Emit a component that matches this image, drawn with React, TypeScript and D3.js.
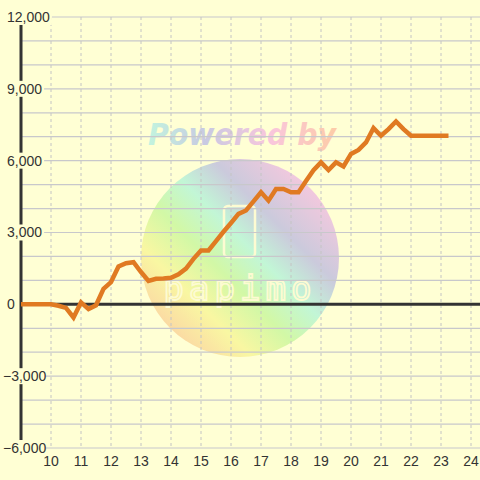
import React from 'react'
import * as d3 from 'd3'

// hour of day (quarter-hour steps) and cumulative value
const hours = [9, 9.25, 9.5, 9.75, 10, 10.25, 10.5, 10.75, 11, 11.25, 11.5, 11.75, 12, 12.25, 12.5, 12.75, 13, 13.25, 13.5, 13.75, 14, 14.25, 14.5, 14.75, 15, 15.25, 15.5, 15.75, 16, 16.25, 16.5, 16.75, 17, 17.25, 17.5, 17.75, 18, 18.25, 18.5, 18.75, 19, 19.25, 19.5, 19.75, 20, 20.25, 20.5, 20.75, 21, 21.25, 21.5, 21.75, 22, 22.25, 22.5, 22.75, 23, 23.25]
const values = [0, 0, 0, 0, 0, -60, -150, -550, 80, -200, -40, 650, 930, 1580, 1720, 1760, 1350, 980, 1070, 1080, 1110, 1250, 1490, 1900, 2250, 2250, 2640, 3030, 3400, 3780, 3920, 4300, 4680, 4330, 4820, 4820, 4680, 4680, 5150, 5600, 5930, 5610, 5930, 5760, 6280, 6450, 6760, 7360, 7040, 7320, 7640, 7320, 7040, 7040, 7040, 7040, 7040, 7040]

const xTicks = [10, 11, 12, 13, 14, 15, 16, 17, 18, 19, 20, 21, 22, 23, 24]
const yTicks = [-6000, -3000, 0, 3000, 6000, 9000, 12000]
const yGrid = d3.range(-6000, 12001, 1000)

const W = 480
const H = 480
const BG = '#ffffd4'
const FONT = 'Liberation Sans, Arial, sans-serif'

const App = () => {
    const x = d3.scaleLinear().domain([9, 24.3]).range([21, 480])
    const y = d3.scaleLinear().domain([-6000, 12000]).range([448, 17])
    const fmt = d3.format(',')

    const line = d3.line<number>()
        .x((d, i) => x(hours[i]))
        .y(d => y(d))

    return (
        <svg width={W} height={H} style={{ position: 'absolute', left: 0, top: 0 }} fontFamily={FONT}>
            <defs>
                <linearGradient id="wm" x1="0" y1="1" x2="1" y2="0">
                    <stop offset="0.05" stopColor="#fcc6a4" />
                    <stop offset="0.28" stopColor="#f9f7a2" />
                    <stop offset="0.42" stopColor="#d2f8a6" />
                    <stop offset="0.55" stopColor="#c2f6d6" />
                    <stop offset="0.68" stopColor="#cbcadc" />
                    <stop offset="0.9" stopColor="#fcc8de" />
                </linearGradient>
                <linearGradient id="pw" x1="0" y1="0" x2="1" y2="0">
                    <stop offset="0" stopColor="#c2f4de" />
                    <stop offset="0.3" stopColor="#c8cae2" />
                    <stop offset="0.65" stopColor="#f9c6dc" />
                    <stop offset="1" stopColor="#fdcca6" />
                </linearGradient>
            </defs>
            <rect width={W} height={H} fill={BG} />

            {/* watermark */}
            <circle cx={240} cy={258} r={99} fill="url(#wm)" />
            <text x={148} y={145} fontSize={30} fontWeight="bold" fontStyle="italic"
                fontFamily="DejaVu Sans, sans-serif" fill="url(#pw)" textLength={188}
                lengthAdjust="spacingAndGlyphs">Powered by</text>
            <rect x={224} y={206} width={31} height={51} rx={4} fill="none" stroke="#fdfbd2" strokeWidth={2.5} />
            <text x={240} y={300} fontSize={34} textAnchor="middle" fill="none" stroke="#fdfbd2" strokeWidth={1.8}
                fontFamily="DejaVu Sans Mono, monospace" letterSpacing={5}>papimo</text>

            {/* grid */}
            {yGrid.map(v => (
                <line key={'h' + v} x1={21} x2={W} y1={y(v)} y2={y(v)} stroke="#c8c8cb" strokeWidth={1.2} />
            ))}
            {xTicks.map(v => (
                <line key={'v' + v} x1={x(v)} x2={x(v)} y1={17} y2={448} stroke="#c4c4c4" strokeDasharray="3,3" />
            ))}

            {/* axes */}
            <line x1={21} x2={W} y1={y(0)} y2={y(0)} stroke="#333" strokeWidth={3} />
            <line x1={21} x2={21} y1={17} y2={448} stroke="#333" strokeWidth={3} />

            <path d={line(values) || ''} fill="none" stroke="#e07a22" strokeWidth={4.5} strokeLinejoin="miter" />

            {yTicks.map(v => {
                const label = fmt(v)
                const tx = v < 0 ? 3 : 7
                const tw = v < 0 ? 40 : (label.length - 1) * 7.8 + 3.9 + (v === 0 ? -3.9 : 0)
                return (
                    <g key={'yl' + v}>
                        <rect x={tx - 1} y={y(v) - 8} width={tw + 3} height={16} fill={BG} />
                        <text x={tx} y={y(v)} dy="0.35em" fontSize={14} fill="#333">{label}</text>
                    </g>
                )
            })}
            {xTicks.map(v => (
                <text key={'xl' + v} x={x(v)} y={466} fontSize={14} fill="#333" textAnchor="middle">{v}</text>
            ))}
        </svg>
    )
}

export default App
